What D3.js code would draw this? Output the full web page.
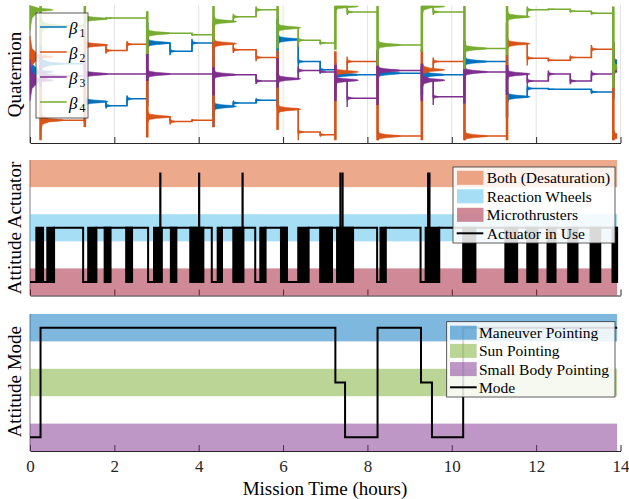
<!DOCTYPE html>
<html>
<head>
<meta charset="utf-8">
<script src="https://cdn.jsdelivr.net/npm/d3@7"></script>
<style>
  body { margin: 0; background: #fff; }
  text { font-family: "Liberation Serif", "Times New Roman", serif; }
</style>
</head>
<body>
<svg id="chart" width="629" height="499"></svg>
<script>
// ---- data ----
var hourTicks = [0, 2, 4, 6, 8, 10, 12, 14]
var tEnd = 13.92

// quaternion components, piecewise levels between change times
var qTimes = [0, 0.25, 1.30, 1.80, 2.30, 2.78, 3.32, 3.84, 4.35, 4.82, 5.36, 5.87, 6.36, 6.88, 7.24, 7.52, 8.24, 9.29, 9.56, 10.30, 11.31, 11.79, 12.29, 12.81, 13.31, 13.83, 13.92]
var beta1 = [0.03, 0.15, -0.40, -0.46, -0.36, 0.45, 0.33, 0.45, -0.47, -0.42, -0.38, 0.50, 0.18, 0.06, -0.01, -0.01, 0.01, -0.01, -0.01, 0.18, -0.33, -0.21, -0.22, -0.22, -0.26, 0.17]
var beta2 = [0.25, -0.67, 0.42, 0.34, 0.43, -0.62, -0.69, -0.67, 0.44, 0.35, 0.24, -0.51, -0.84, -0.88, 0.03, 0.18, -0.90, 0.06, 0.18, -0.90, 0.44, 0.23, 0.20, 0.24, 0.36, -0.90]
var beta3 = [-0.09, -0.03, 0, 0, 0, 0, 0, 0, -0.01, -0.01, -0.10, -0.07, 0.05, 0.03, -0.09, -0.35, 0.05, -0.09, -0.33, 0.03, 0, -0.10, 0, -0.10, 0, 0.06]
var beta4 = [0.93, 0.70, 0.80, 0.81, 0.81, 0.59, 0.59, 0.57, 0.76, 0.83, 0.93, 0.67, 0.49, 0.45, 0.98, 0.90, 0.42, 0.98, 0.90, 0.37, 0.83, 0.93, 0.94, 0.91, 0.88, 0.10]
// slews and how wide the ringing after them looks
var slewTimes = [0, 0.25, 1.30, 2.78, 4.35, 5.87, 7.24, 8.24, 9.29, 10.30, 11.31, 13.83]
var slewRing = [0.3, 0.15, 0.09, 0.1, 0.1, 0.1, 0.09, 0.1, 0.13, 0.1, 0.1, 0.1]

// actuator: 1 = microthrusters, 3 = reaction wheels, 5 = both
var actTimes = [0, 0.57, 1.26, 1.57, 2.80, 3.12, 4.31, 4.55, 5.34, 5.58, 6.09, 6.60, 8.23, 8.43, 9.26, 9.70, 13.92]
var actLevels = [1, 3, 1, 3, 1, 3, 1, 3, 1, 3, 1, 3, 1, 3, 1, 3, 3]
var burstStart = [0.15, 0.41, 1.38, 1.77, 2.28, 2.94, 3.34, 3.80, 4.45, 4.82, 5.46, 5.95, 6.36, 6.88, 7.28, 8.31, 9.38, 10.27, 11.27, 11.79, 12.27, 12.76, 13.29, 13.81]
var burstEnd = [0.31, 0.57, 1.57, 1.91, 2.42, 3.12, 3.47, 4.11, 4.55, 5.06, 5.58, 6.09, 6.60, 7.16, 7.66, 8.43, 9.70, 10.56, 11.55, 12.03, 12.46, 12.98, 13.52, 13.92]
var desatTimes = [3.09, 4.01, 5.04, 7.36, 7.41, 9.44, 9.47]

// mode: 1 = small body, 3 = sun, 5 = maneuver
var modeTimes = [0, 0.25, 7.24, 7.47, 8.24, 9.27, 9.53, 10.27, 13.92]
var modeLevels = [1, 5, 3, 1, 5, 3, 1, 5, 5]

var qNames = ['1', '2', '3', '4']
var qColors = ['#0072BD', '#D95319', '#7E2F8E', '#77AC30']
var actNames = ['Both (Desaturation)', 'Reaction Wheels', 'Microthrusters']
var actBandColors = ['#D95319', '#4DBEEE', '#A2142F']
var modeNames = ['Maneuver Pointing', 'Sun Pointing', 'Small Body Pointing']
var modeBandColors = ['#0072BD', '#77AC30', '#7E2F8E']
var bandLevels = [5, 3, 1]

// ---- scales ----
var x = d3.scaleLinear().domain([0, 14]).range([30, 620.5])
var yq = d3.scaleLinear().domain([-1, 1]).range([143, 5])
var ya = d3.scaleLinear().domain([0.5, 5.5]).range([295.5, 160])
var ym = d3.scaleLinear().domain([0.5, 5.5]).range([451, 314])

var svg = d3.select('#chart')
var serif = '"Liberation Serif", "Times New Roman", serif'

function clampQ(v) { return Math.max(-0.96, Math.min(0.985, v)) }

function drawAxis(y, labels) {
  var ax = d3.axisBottom(x).tickValues(hourTicks).tickSizeInner(-6).tickSizeOuter(0).tickPadding(8.5)
  if (!labels) ax.tickFormat('')
  var g = svg.append('g').attr('transform', 'translate(0,' + y.range()[0] + ')').call(ax)
  g.attr('font-family', serif).attr('font-size', 17)
  g.select('.domain').attr('stroke', '#262626')
  g.selectAll('.tick line').attr('stroke', '#262626')
  g.selectAll('.tick text').attr('fill', '#262626')
  svg.append('line')
    .attr('x1', x(0)).attr('x2', x(0))
    .attr('y1', y.range()[1]).attr('y2', y.range()[0])
    .attr('stroke', '#262626').attr('stroke-width', 0.6)
}

function yLabel(txt, cy) {
  svg.append('text')
    .attr('transform', 'translate(21,' + cy + ') rotate(-90)')
    .attr('text-anchor', 'middle')
    .attr('font-size', 19)
    .text(txt)
}

var line = function(y) {
  return d3.line().x(function(d) { return x(d[0]) }).y(function(d) { return y(d[1]) })
}

// ---- top panel: quaternion ----
svg.append('clipPath').attr('id', 'qclip').append('rect')
  .attr('x', x(0) - 1).attr('y', 0).attr('width', x(tEnd) - x(0) + 1).attr('height', yq(-1))

svg.append('g').selectAll('line').data(hourTicks).enter().append('line')
  .attr('x1', function(d) { return x(d) }).attr('x2', function(d) { return x(d) })
  .attr('y1', yq(1)).attr('y2', yq(-1))
  .attr('stroke', '#e3e3e3').attr('stroke-width', 1)
drawAxis(yq, false)

var qVals = [beta1, beta2, beta3, beta4]
var qLayer = svg.append('g').attr('clip-path', 'url(#qclip)')
qVals.forEach(function(vals, k) {
  var g = qLayer.append('g').attr('fill', qColors[k]).attr('stroke', qColors[k])
  var pts = []
  for (var i = 0; i < qTimes.length - 1; i++) {
    var t = qTimes[i], v = vals[i]
    var si = slewTimes.indexOf(t)
    var jump = i > 0 ? v - vals[i - 1] : 0
    var dir = jump >= 0 ? 1 : -1
    var stepped = si >= 0 || Math.abs(jump) > 0.004
    if (i > 0 && stepped) {
      var prev = vals[i - 1]
      var lo = si >= 0 ? clampQ(prev - dir * 0.1) : prev
      var hi = clampQ(v + dir * (si >= 0 ? 0.3 : Math.abs(jump) * 0.5))
      g.append('line').attr('x1', x(t)).attr('x2', x(t))
        .attr('y1', yq(lo)).attr('y2', yq(hi))
        .attr('stroke-width', si >= 0 ? 2.6 : 1.4)
    }
    // ringing envelope after the step
    if (stepped) {
      var w
      if (si >= 0) {
        var a = slewRing[si]
        w = [[t, v + a], [t + 0.05, v + a * 0.4], [t + 0.2, v + 0.025], [t + 0.5, v + 0.01], [t + 0.55, v],
             [t + 0.5, v - 0.01], [t + 0.2, v - 0.025], [t + 0.05, v - a * 0.4], [t, v - a]]
      } else {
        var b = Math.min(0.045, Math.abs(jump) * 0.8)
        w = [[t, v + b], [t + 0.03, v + b * 0.4], [t + 0.14, v], [t + 0.03, v - b * 0.4], [t, v - b]]
      }
      w.forEach(function(p) { p[1] = clampQ(p[1]) })
      g.append('path').attr('d', line(yq)(w) + 'Z').attr('stroke-width', 0.5)
    }
    pts.push([t, v])
    pts.push([qTimes[i + 1], v])
  }
  g.append('path').attr('d', line(yq)(pts)).attr('fill', 'none').attr('stroke-width', 1.5)
})

// legend
var lg1 = svg.append('g')
lg1.append('rect').attr('x', 36).attr('y', 13).attr('width', 52).attr('height', 105)
  .attr('fill', '#fff').attr('fill-opacity', 0.82).attr('stroke', '#333').attr('stroke-width', 0.8)
qNames.forEach(function(n, i) {
  var ry = 27 + i * 25
  lg1.append('line').attr('x1', 40).attr('x2', 66.7).attr('y1', ry).attr('y2', ry)
    .attr('stroke', qColors[i]).attr('stroke-width', 1.5)
  lg1.append('text').attr('x', 69).attr('y', ry + 6.5).attr('font-size', 17)
    .attr('font-style', 'italic').text('\u03B2')
  lg1.append('text').attr('x', 79.5).attr('y', ry + 9.7).attr('font-size', 11.5).text(n)
})
yLabel('Quaternion', 74.5)

// ---- middle panel: actuator ----
drawAxis(ya, false)
svg.append('g').selectAll('rect').data(bandLevels).enter().append('rect')
  .attr('x', x(0)).attr('width', x(tEnd) - x(0))
  .attr('y', function(d) { return ya(d + 0.5) })
  .attr('height', function(d) { return ya(d - 0.5) - ya(d + 0.5) })
  .attr('fill', function(d, i) { return actBandColors[i] }).attr('fill-opacity', 0.5)

var actPts = []
actTimes.forEach(function(t, i) {
  if (i > 0) actPts.push([t, actLevels[i - 1]])
  actPts.push([t, actLevels[i]])
})
svg.append('path').attr('d', line(ya)(actPts)).attr('fill', 'none')
  .attr('stroke', '#000').attr('stroke-width', 2)
svg.append('g').selectAll('rect').data(burstStart).enter().append('rect')
  .attr('x', function(d) { return x(d) - 1 })
  .attr('width', function(d, i) { return x(burstEnd[i]) - x(d) + 2 })
  .attr('y', ya(3) - 1).attr('height', ya(1) - ya(3) + 2)
  .attr('fill', '#000')
svg.append('g').selectAll('line').data(desatTimes).enter().append('line')
  .attr('x1', function(d) { return x(d) }).attr('x2', function(d) { return x(d) })
  .attr('y1', ya(5) - 1).attr('y2', ya(3))
  .attr('stroke', '#000').attr('stroke-width', 2.2)

var lg2 = svg.append('g')
lg2.append('rect').attr('x', 453).attr('y', 167).attr('width', 162).attr('height', 76)
  .attr('fill', '#fff').attr('fill-opacity', 0.85).attr('stroke', '#333').attr('stroke-width', 0.8)
actNames.forEach(function(n, i) {
  var ry = 177.8 + i * 18.5
  lg2.append('rect').attr('x', 457).attr('y', ry - 7).attr('width', 26.5).attr('height', 14)
    .attr('fill', actBandColors[i]).attr('fill-opacity', 0.5)
  lg2.append('text').attr('x', 486.7).attr('y', ry + 5.5).attr('font-size', 15.5).text(n)
})
lg2.append('line').attr('x1', 456.7).attr('x2', 483.3).attr('y1', 233.3).attr('y2', 233.3)
  .attr('stroke', '#000').attr('stroke-width', 2)
lg2.append('text').attr('x', 486.7).attr('y', 233.3 + 5.5).attr('font-size', 15.5).text('Actuator in Use')
yLabel('Attitude Actuator', 228)

// ---- bottom panel: mode ----
drawAxis(ym, true)
svg.append('g').selectAll('rect').data(bandLevels).enter().append('rect')
  .attr('x', x(0)).attr('width', x(tEnd) - x(0))
  .attr('y', function(d) { return ym(d + 0.5) })
  .attr('height', function(d) { return ym(d - 0.5) - ym(d + 0.5) })
  .attr('fill', function(d, i) { return modeBandColors[i] }).attr('fill-opacity', 0.5)

var modePts = []
modeTimes.forEach(function(t, i) {
  if (i > 0) modePts.push([t, modeLevels[i - 1]])
  modePts.push([t, modeLevels[i]])
})
svg.append('path').attr('d', line(ym)(modePts)).attr('fill', 'none')
  .attr('stroke', '#000').attr('stroke-width', 2)

var lg3 = svg.append('g')
lg3.append('rect').attr('x', 446.7).attr('y', 321.7).attr('width', 168.3).attr('height', 75.3)
  .attr('fill', '#fff').attr('fill-opacity', 0.85).attr('stroke', '#333').attr('stroke-width', 0.8)
modeNames.forEach(function(n, i) {
  var ry = 332.7 + i * 18.2
  lg3.append('rect').attr('x', 450).attr('y', ry - 7).attr('width', 26.7).attr('height', 14)
    .attr('fill', modeBandColors[i]).attr('fill-opacity', 0.5)
  lg3.append('text').attr('x', 479).attr('y', ry + 5.5).attr('font-size', 15.5).text(n)
})
lg3.append('line').attr('x1', 450).attr('x2', 476.7).attr('y1', 387.3).attr('y2', 387.3)
  .attr('stroke', '#000').attr('stroke-width', 2)
lg3.append('text').attr('x', 479).attr('y', 387.3 + 5.5).attr('font-size', 15.5).text('Mode')
yLabel('Attitude Mode', 381.7)

svg.append('text').attr('x', 325).attr('y', 495).attr('text-anchor', 'middle')
  .attr('font-size', 19).text('Mission Time (hours)')
</script>
</body>
</html>
